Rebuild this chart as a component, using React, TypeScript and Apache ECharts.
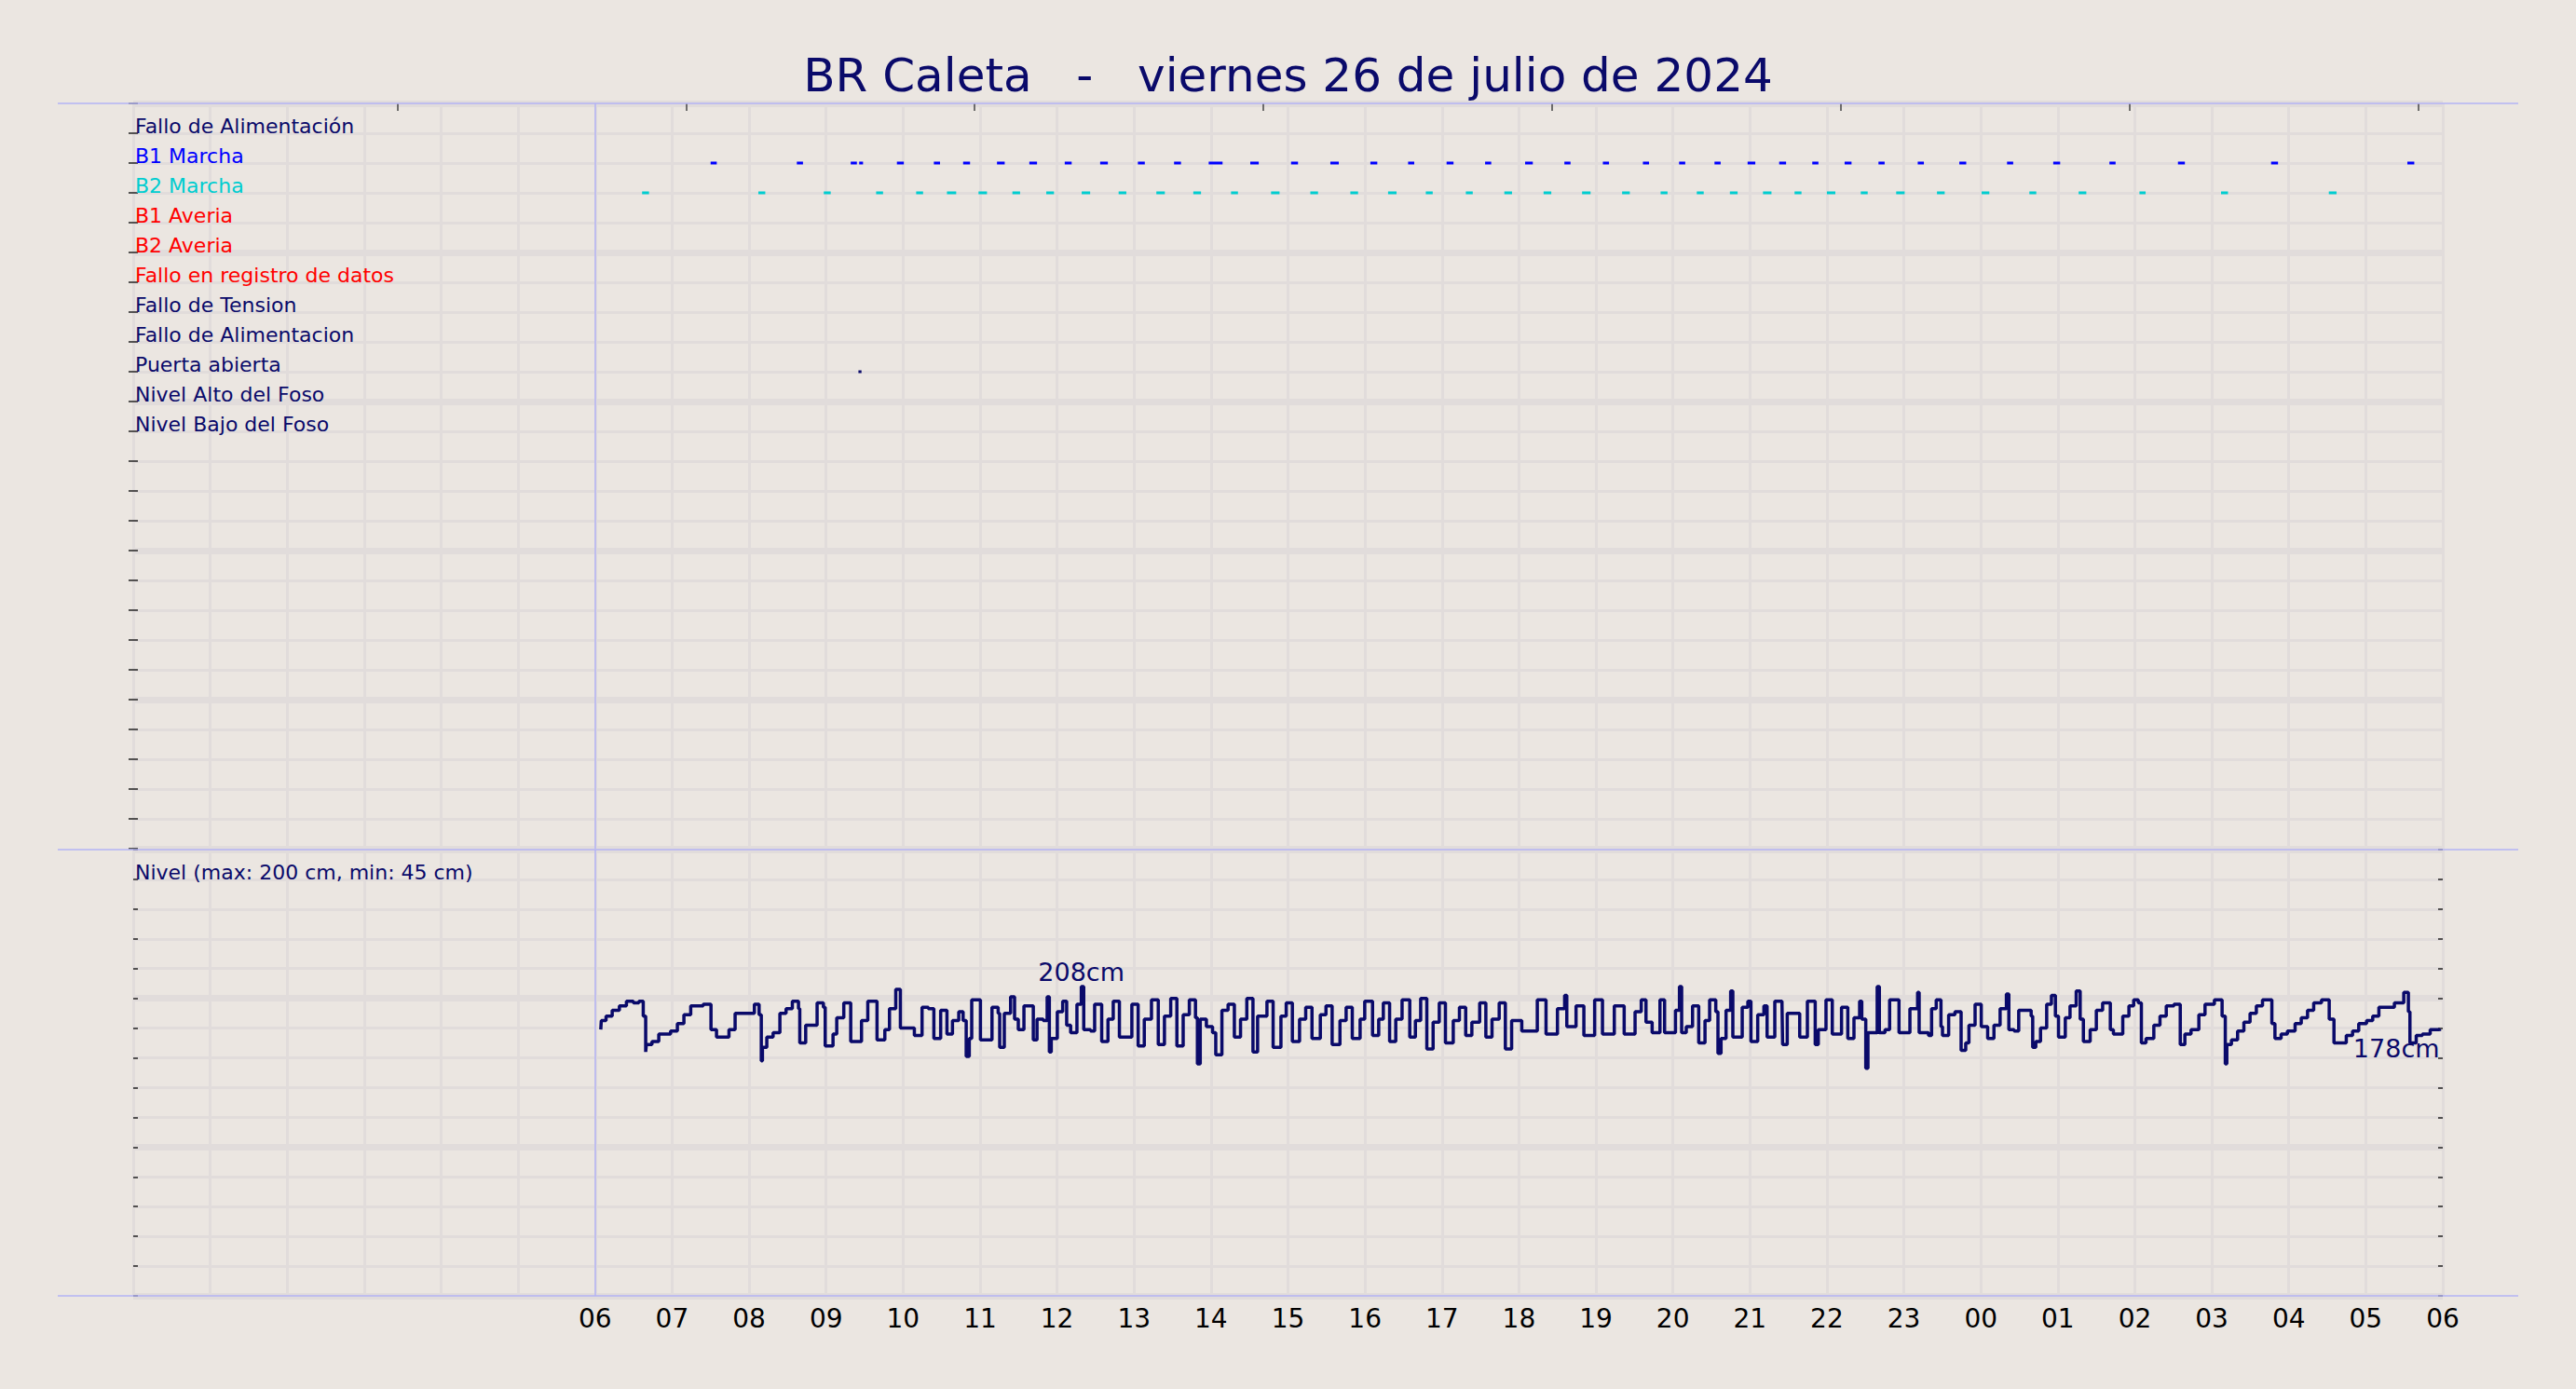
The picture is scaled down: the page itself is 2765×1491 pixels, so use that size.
import { useEffect, useRef } from "react";
import * as echarts from "echarts";

const NAVY = "#0a0a6a";
const BG = "#ebe6e1";
const GRID = "#e1dcdb";
const FRAME = "#b3b3f5";
const FONT = "DejaVu Sans";

const title = "BR Caleta   -   viernes 26 de julio de 2024";

// event rows of the upper panel (row 1 is the first line)
const rowNames = [
  "Fallo de Alimentación",
  "B1 Marcha",
  "B2 Marcha",
  "B1 Averia",
  "B2 Averia",
  "Fallo en registro de datos",
  "Fallo de Tension",
  "Fallo de Alimentacion",
  "Puerta abierta",
  "Nivel Alto del Foso",
  "Nivel Bajo del Foso",
];
const rowColors = [NAVY, "#0000ff", "#00cdd0", "#ff0000", "#ff0000", "#ff0000", NAVY, NAVY, NAVY, NAVY, NAVY];

// axis hours: 6 = 06:00 of the day, 24 = 00:00, 30 = 06:00 next day
const b1Marcha = [
  [7.5, 7.58], [8.62, 8.7], [9.32, 9.4], [9.43, 9.48], [9.92, 10.01], [10.4, 10.48], [10.78, 10.87],
  [11.22, 11.32], [11.64, 11.74], [12.1, 12.19], [12.56, 12.66], [13.05, 13.14], [13.52, 13.61],
  [13.97, 14.15], [14.51, 14.62], [15.04, 15.13], [15.55, 15.66], [16.07, 16.16], [16.56, 16.64],
  [17.06, 17.15], [17.56, 17.64], [18.08, 18.18], [18.59, 18.67], [19.09, 19.17], [19.61, 19.69],
  [20.08, 20.16], [20.54, 20.62], [20.97, 21.07], [21.38, 21.47], [21.81, 21.89], [22.23, 22.32],
  [22.67, 22.75], [23.18, 23.26], [23.72, 23.81], [24.34, 24.42], [24.94, 25.03], [25.67, 25.75],
  [26.56, 26.65], [27.77, 27.86], [29.54, 29.63],
];
const b2Marcha = [
  [6.61, 6.7], [8.12, 8.21], [8.97, 9.06], [9.65, 9.74], [10.17, 10.26], [10.57, 10.69], [10.98, 11.09],
  [11.42, 11.52], [11.86, 11.96], [12.32, 12.43], [12.8, 12.9], [13.29, 13.4], [13.77, 13.87],
  [14.26, 14.35], [14.78, 14.89], [15.29, 15.39], [15.81, 15.91], [16.3, 16.41], [16.79, 16.88],
  [17.31, 17.4], [17.81, 17.91], [18.32, 18.42], [18.82, 18.93], [19.34, 19.44], [19.84, 19.93],
  [20.31, 20.4], [20.74, 20.84], [21.17, 21.28], [21.58, 21.67], [22.0, 22.11], [22.44, 22.53],
  [22.9, 23.01], [23.43, 23.53], [24.01, 24.11], [24.63, 24.72], [25.27, 25.37], [26.06, 26.14],
  [27.12, 27.21], [28.52, 28.62],
];
const puertaAbierta = [[9.42, 9.46]];

const topTickHours = [3.43, 7.18, 10.93, 14.68, 18.43, 22.18, 25.93, 29.68];

// pit level: [minutes after 06:00, cm]
const level06to12 = [
  [4.4, 179], [4.8, 185], [8.5, 188], [13.3, 192], [18.9, 195], [24.4, 198], [29.8, 197], [34.1, 198],
  [37.5, 188], [39.4, 164], [39.9, 169], [44.3, 171], [49.6, 176], [58.8, 178], [64.1, 183], [69.2, 189],
  [74.5, 195], [84.2, 196], [90.3, 179], [94.6, 174], [104.3, 179], [109.1, 190], [124.1, 196], [127.8, 189],
  [129.5, 158], [130.4, 167], [133.8, 174], [138.7, 177], [144.0, 190], [148.8, 193], [153.7, 198],
  [158.5, 193], [159.5, 170], [164.1, 182], [173.0, 197], [177.9, 194], [179.3, 168], [185.4, 176],
  [188.3, 187], [193.8, 197], [199.2, 171], [207.6, 185], [212.5, 198], [219.7, 172], [225.8, 179],
  [229.4, 193], [234.3, 206], [237.9, 180], [248.8, 175], [254.8, 194], [259.7, 193], [264.0, 173],
  [269.3, 192], [274.2, 176], [278.5, 185], [283.4, 191], [286.8, 185], [289.2, 161], [291.6, 173],
  [293.5, 199], [300.3, 172], [309.3, 194], [314.1, 190], [315.3, 167], [318.9, 190], [323.8, 201],
  [326.9, 186], [329.8, 179], [334.2, 195], [341.5, 172], [344.4, 186], [349.2, 185], [352.3, 201],
  [354.0, 164], [355.5, 173],
];
const level12to18 = [
  [360.2, 191], [364.4, 198], [367.5, 182], [370.6, 177], [375.5, 196], [378.9, 208], [380.8, 179],
  [386.1, 178], [389.3, 196], [394.8, 171], [399.7, 186], [403.8, 198], [408.6, 174], [418.3, 196],
  [423.2, 168], [428.0, 186], [433.6, 199], [438.9, 169], [443.7, 188], [448.6, 200], [453.4, 168],
  [458.3, 189], [463.1, 199], [467.9, 187], [469.4, 156], [471.6, 186], [476.4, 181], [481.2, 177],
  [483.7, 162], [488.5, 192], [493.3, 196], [498.2, 174], [503.0, 186], [507.9, 200], [512.7, 164],
  [516.3, 188], [523.6, 198], [528.4, 167], [534.5, 188], [538.6, 197], [543.4, 171], [549.0, 186],
  [553.8, 194], [558.7, 173], [565.2, 189], [569.6, 195], [574.4, 169], [580.5, 185], [585.3, 194],
  [590.1, 173], [596.2, 186], [599.8, 198], [605.9, 175], [610.7, 186], [614.3, 197], [619.2, 171],
  [624.0, 186], [628.9, 199], [634.9, 174], [639.3, 185], [643.4, 200], [648.2, 166], [653.1, 184],
  [657.9, 197], [662.7, 170], [668.8, 185], [673.6, 194], [678.5, 175], [683.3, 184], [689.4, 197],
  [694.2, 174], [699.0, 186], [704.6, 197], [709.4, 166], [714.3, 185],
];
const level18to24 = [
  [722.2, 178], [734.3, 199], [741.1, 176], [750.0, 193], [755.6, 202], [757.3, 181], [764.5, 195],
  [770.6, 175], [779.0, 199], [785.1, 176], [794.3, 195], [802.0, 176], [810.5, 191], [815.3, 199],
  [819.0, 184], [823.8, 177], [829.9, 199], [833.5, 177], [842.0, 192], [845.1, 208], [846.8, 177],
  [850.4, 181], [855.3, 195], [860.1, 170], [865.0, 185], [868.6, 199], [873.4, 191], [875.1, 163],
  [877.5, 173], [881.4, 192], [885.0, 205], [886.7, 174], [894.0, 194], [898.4, 198], [900.8, 171],
  [906.1, 189], [910.9, 195], [913.4, 174], [919.4, 198], [925.0, 196], [925.5, 169], [929.1, 190],
  [938.8, 174], [944.8, 198], [950.9, 169], [953.3, 179], [959.3, 199], [964.2, 176], [971.4, 194],
  [976.3, 173], [981.1, 187], [985.5, 198], [987.2, 186], [990.3, 153], [992.0, 177], [999.2, 208],
  [1000.9, 177], [1005.3, 179], [1008.9, 199], [1016.2, 177], [1024.7, 193], [1030.7, 204],
  [1031.9, 177], [1039.2, 175], [1041.6, 193], [1045.2, 199], [1048.9, 181], [1050.1, 175],
  [1054.9, 189], [1059.8, 191], [1064.6, 165], [1068.2, 170], [1070.7, 182], [1075.5, 196],
  [1080.3, 181],
];
const level24to06 = [
  [1085.3, 173], [1090.2, 182], [1095.0, 193], [1099.9, 203], [1101.8, 179], [1105.9, 178],
  [1109.5, 192], [1119.2, 188], [1120.4, 167], [1122.8, 171], [1126.5, 180], [1131.3, 196],
  [1135.0, 202], [1138.1, 188], [1140.5, 174], [1145.8, 187], [1149.5, 195], [1154.3, 205],
  [1157.4, 186], [1159.9, 171], [1165.2, 179], [1170.0, 192], [1174.9, 197], [1180.9, 179],
  [1183.3, 176], [1190.6, 188], [1195.4, 195], [1199.1, 199], [1202.7, 197], [1205.1, 170],
  [1208.7, 173], [1214.8, 182], [1219.6, 188], [1224.5, 195], [1230.5, 196], [1235.4, 169],
  [1239.0, 176], [1243.8, 179], [1249.9, 189], [1254.7, 196], [1262.0, 199], [1268.0, 188],
  [1270.5, 156], [1271.7, 169], [1275.3, 172], [1280.1, 178], [1285.0, 184], [1289.8, 190],
  [1294.7, 195], [1299.5, 199], [1306.8, 183], [1309.2, 173], [1314.0, 176], [1318.9, 178],
  [1324.9, 183], [1329.7, 187], [1334.6, 192], [1339.4, 197], [1345.5, 199], [1351.5, 186],
  [1355.2, 170], [1364.8, 175], [1369.7, 178], [1374.5, 183], [1380.6, 185], [1385.4, 188],
  [1390.2, 194], [1402.3, 197], [1409.6, 204], [1413.2, 191], [1414.4, 170], [1419.3, 175],
  [1424.1, 176], [1430.2, 179], [1437.5, 178],
];

const levelLabel = "Nivel (max: 200 cm, min: 45 cm)";

function dashSeries(data: number[][], row: number, color: string, h: number) {
  return {
    type: "custom",
    xAxisIndex: 0,
    yAxisIndex: 0,
    data: data.map(([a, b]) => [a, b, row]),
    encode: { x: [0, 1], y: 2 },
    renderItem: (_p: unknown, api: any) => {
      const s = api.coord([api.value(0), api.value(2)]);
      const e = api.coord([api.value(1), api.value(2)]);
      return {
        type: "rect",
        shape: { x: s[0], y: s[1] - h / 2, width: Math.max(e[0] - s[0], 3), height: h },
        style: { fill: color },
      };
    },
  };
}

export default function App() {
  const chartRef = useRef<HTMLDivElement>(null);

  useEffect(() => {
    if (!chartRef.current) return;
    const chart = echarts.init(chartRef.current, null, { renderer: "svg" });

    const level = [...level06to12, ...level12to18, ...level18to24, ...level24to06].map(([m, v]) => [6 + m / 60, v]);
    let maxIdx = 0;
    level.forEach((p, i) => {
      if (p[1] > level[maxIdx][1]) maxIdx = i;
    });
    const last = level[level.length - 1];

    const thin = { show: true, lineStyle: { color: GRID, width: 3 } };
    const thick = { show: true, lineStyle: { color: GRID, width: 7 } };
    const hidden = { show: false };
    const tickIn = { show: true, inside: true, length: 5, lineStyle: { color: "#222", width: 1.5 } };
    const frameLine = { color: FRAME, width: 1.5, type: "solid" };

    chart.setOption({
      animation: false,
      backgroundColor: BG,
      textStyle: { fontFamily: FONT },
      title: {
        text: title,
        left: "center",
        top: 56,
        padding: 0,
        textStyle: { fontSize: 50, fontWeight: "normal", color: NAVY, fontFamily: FONT, lineHeight: 50 },
      },
      grid: [
        { left: 143, top: 111, width: 2479, height: 800 },
        { left: 143, top: 912, width: 2479, height: 479 },
      ],
      xAxis: [
        { gridIndex: 0, type: "value", min: 0, max: 30, interval: 1, axisLine: hidden, axisTick: hidden, axisLabel: hidden, splitLine: thin },
        {
          gridIndex: 0, type: "value", min: 0, max: 30, position: "top", axisLine: hidden, axisLabel: hidden, splitLine: hidden,
          axisTick: { show: true, inside: true, length: 8, customValues: topTickHours, lineStyle: { color: "#444", width: 1.5 } },
        },
        {
          gridIndex: 1, type: "value", min: 0, max: 30, interval: 1, axisLine: hidden, axisTick: hidden, splitLine: thin,
          axisLabel: {
            show: true, margin: 10, fontSize: 28, lineHeight: 28, color: "#000", fontFamily: FONT,
            showMinLabel: true, showMaxLabel: true,
            formatter: (v: number) => (v < 6 ? "" : String(v % 24).padStart(2, "0")),
          },
        },
      ],
      yAxis: [
        {
          gridIndex: 0, type: "value", inverse: true, min: 0, max: 25, interval: 1, axisLine: hidden, axisTick: tickIn, splitLine: thin,
          axisLabel: {
            show: true, inside: true, margin: 2, fontSize: 22, lineHeight: 15, verticalAlign: "bottom", fontFamily: FONT,
            formatter: (v: number) => rowNames[v - 1] ?? "",
            color: (v: any) => rowColors[Number(v) - 1] ?? NAVY,
          },
        },
        { gridIndex: 0, type: "value", inverse: true, min: 0, max: 25, interval: 1, position: "right", axisLine: hidden, axisTick: tickIn, axisLabel: hidden, splitLine: hidden },
        { gridIndex: 0, type: "value", inverse: true, min: 0, max: 25, interval: 5, axisLine: hidden, axisTick: hidden, axisLabel: hidden, splitLine: thick },
        {
          gridIndex: 1, type: "value", min: 0, max: 300, interval: 20, axisLine: hidden, axisTick: tickIn, splitLine: thin,
          axisLabel: {
            show: true, inside: true, margin: 2, fontSize: 22, lineHeight: 15, verticalAlign: "bottom", color: NAVY, fontFamily: FONT,
            formatter: (v: number) => (v === 280 ? levelLabel : ""),
          },
        },
        { gridIndex: 1, type: "value", min: 0, max: 300, interval: 20, position: "right", axisLine: hidden, axisTick: tickIn, axisLabel: hidden, splitLine: hidden },
        { gridIndex: 1, type: "value", min: 0, max: 300, interval: 100, axisLine: hidden, axisTick: hidden, axisLabel: hidden, splitLine: thick },
      ],
      series: [
        {
          type: "line", xAxisIndex: 0, yAxisIndex: 0, data: [[6, 0]], showSymbol: false, lineStyle: { opacity: 0 },
          markLine: { silent: true, symbol: "none", label: { show: false }, lineStyle: frameLine, data: [{ xAxis: 6 }] },
        },
        dashSeries(b1Marcha, 2, "#0000ff", 3),
        dashSeries(b2Marcha, 3, "#00cdd0", 3),
        dashSeries(puertaAbierta, 9, NAVY, 3),
        {
          type: "line",
          xAxisIndex: 2,
          yAxisIndex: 3,
          step: "end",
          data: level,
          showSymbol: false,
          lineStyle: { color: NAVY, width: 3.5 },
          markLine: { silent: true, symbol: "none", label: { show: false }, lineStyle: frameLine, data: [{ xAxis: 6 }] },
          markPoint: {
            symbol: "circle",
            symbolSize: 0,
            label: { color: NAVY, fontSize: 27, lineHeight: 27, fontFamily: FONT },
            data: [
              { coord: level[maxIdx], value: level[maxIdx][1], label: { position: "top", distance: 2, formatter: `${level[maxIdx][1]}cm` } },
              { coord: last, value: last[1], label: { position: [0, 5], align: "right", verticalAlign: "top", formatter: `${last[1]}cm` } },
            ],
          },
        },
      ],
      graphic: [111, 912, 1391].map((y) => ({
        type: "line",
        z: 100,
        shape: { x1: 62, y1: y, x2: 2703, y2: y },
        style: { stroke: FRAME, lineWidth: 1.5 },
      })),
    });

    return () => chart.dispose();
  }, []);

  return (
    <div
      ref={chartRef}
      style={{ position: "fixed", left: 0, top: 0, width: 2765, height: 1491 }}
    />
  );
}
